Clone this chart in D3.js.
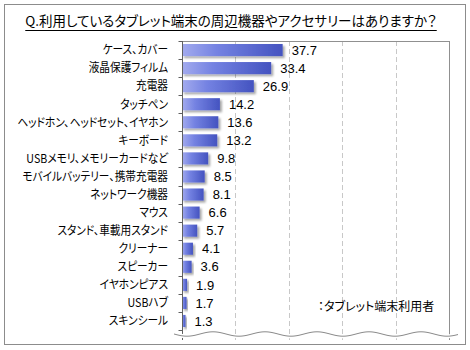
<!DOCTYPE html>
<html><head><meta charset="utf-8">
<script src="https://cdn.jsdelivr.net/npm/d3@7"></script>
<style>
html,body{margin:0;padding:0;background:#fff;}
text{font-family:"Noto Sans CJK JP","Noto Sans",sans-serif;font-feature-settings:"palt" 1;}
</style></head>
<body>
<svg id="c" width="470" height="350"></svg>
<script>
const title = "Q.利用しているタブレット端末の周辺機器やアクセサリーはありますか？";
const categories = ["ケース、カバー","液晶保護フィルム","充電器","タッチペン","ヘッドホン、ヘッドセット、イヤホン","キーボード","USBメモリ、メモリーカードなど","モバイルバッテリー、携帯充電器","ネットワーク機器","マウス","スタンド、車載用スタンド","クリーナー","スピーカー","イヤホンピアス","USBハブ","スキンシール"];
const values = [37.7,33.4,26.9,14.2,13.6,13.2,9.8,8.5,8.1,6.6,5.7,4.1,3.6,1.9,1.7,1.3];
const xTicks = [0,20,40,60,80,100];
const legendLabel = "：タブレット端末利用者";

const svg = d3.select("#c");
const defs = svg.append("defs");
const g = defs.append("linearGradient").attr("id","bg").attr("x1","0").attr("x2","1").attr("y1","0").attr("y2","0");
g.append("stop").attr("offset","0%").attr("stop-color","#a3abee");
g.append("stop").attr("offset","35%").attr("stop-color","#7482e2");
g.append("stop").attr("offset","100%").attr("stop-color","#4453c0");
const f = defs.append("filter").attr("id","sh").attr("x","-10%").attr("y","-30%").attr("width","130%").attr("height","180%");
f.append("feDropShadow").attr("dx",2).attr("dy",2).attr("stdDeviation",1).attr("flood-color","#000").attr("flood-opacity",0.35);

// outer border
svg.append("rect").attr("x",4.5).attr("y",4.5).attr("width",461).attr("height",340)
  .attr("fill","none").attr("stroke","#8c8c8c").attr("stroke-width",1);

// title
const t = svg.append("text").attr("x",231).attr("y",26).attr("text-anchor","middle")
  .attr("font-size",13.5).attr("fill","#000").text(title);
const tb = t.node().getBBox();
svg.append("line").attr("x1",tb.x).attr("x2",tb.x+tb.width).attr("y1",30.5).attr("y2",30.5)
  .attr("stroke","#000").attr("stroke-width",1);

const x = d3.scaleLinear().domain([0,100]).range([182,449]);
const y = d3.scaleBand().domain(categories).range([41,330]).paddingInner(0.33).paddingOuter(0.165);
const step = y.step();

// gridlines
svg.append("g").selectAll("line").data(xTicks.slice(1,-1)).join("line")
  .attr("x1",d=>Math.round(x(d))+0.5).attr("x2",d=>Math.round(x(d))+0.5)
  .attr("y1",41).attr("y2",340)
  .attr("stroke","#c8c8c8").attr("stroke-dasharray","5,3");

// frame top & right
svg.append("line").attr("x1",x(0)).attr("x2",x(100)+0.5).attr("y1",41.5).attr("y2",41.5).attr("stroke","#909090");
svg.append("line").attr("x1",Math.round(x(100))+0.5).attr("x2",Math.round(x(100))+0.5).attr("y1",41).attr("y2",340).attr("stroke","#909090");

// bars
svg.append("g").selectAll("rect").data(values).join("rect")
  .attr("x",x(0)).attr("y",(d,i)=>y(categories[i]))
  .attr("width",d=>x(d)-x(0)).attr("height",y.bandwidth())
  .attr("fill","url(#bg)").attr("filter","url(#sh)");

// value labels
svg.append("g").selectAll("text").data(values).join("text")
  .attr("x",d=>x(d)+9).attr("y",(d,i)=>y(categories[i])+y.bandwidth()/2)
  .attr("dy","0.36em").attr("font-size",13).attr("fill","#000")
  .style("font-family","'Liberation Sans','DejaVu Sans',sans-serif")
  .text(d=>d.toFixed(1));

// category labels (horizontally condensed to mimic the narrow UI font)
svg.append("g").selectAll("text").data(categories).join("text")
  .attr("transform",d=>`translate(168,${y(d)+y.bandwidth()/2}) scale(0.89,1)`)
  .attr("x",0).attr("y",0).attr("dy","0.36em")
  .attr("text-anchor","end").attr("font-size",12).attr("fill","#000").text(d=>d);

// y axis line and ticks
const ax = Math.round(x(0))+0.5;
svg.append("line").attr("x1",ax).attr("x2",ax).attr("y1",41).attr("y2",340).attr("stroke","#606060");
const bounds = d3.range(categories.length+1).map(i=>41+i*step);
svg.append("g").selectAll("line").data(bounds).join("line")
  .attr("x1",ax-4).attr("x2",ax).attr("y1",d=>Math.round(d)+0.5).attr("y2",d=>Math.round(d)+0.5)
  .attr("stroke","#606060");

// wavy break line
const pts = d3.range(174,459,1).map(px=>[px, 334 + 2.2*Math.sin((px-174)/52*2*Math.PI)]);
svg.append("path").attr("d",d3.line()(pts)).attr("fill","none").attr("stroke","#fff").attr("stroke-width",4);
svg.append("path").attr("d",d3.line()(pts)).attr("fill","none").attr("stroke","#8a8a8a").attr("stroke-width",1);

// legend
svg.append("text").attr("x",318).attr("y",307).attr("dy","0.36em").attr("font-size",12).attr("fill","#000").text(legendLabel);
</script>
</body></html>
